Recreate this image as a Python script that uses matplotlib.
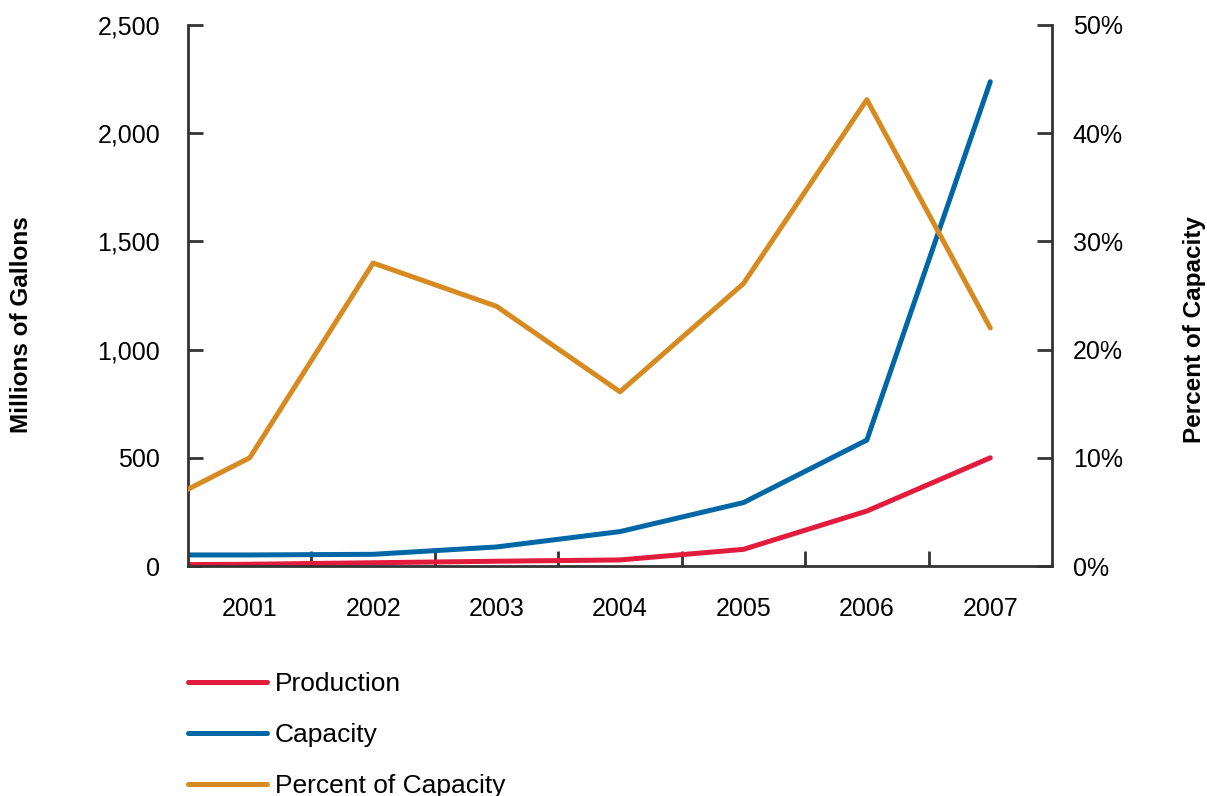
import matplotlib
matplotlib.use('Agg')
import matplotlib.pyplot as plt
from matplotlib.ticker import FuncFormatter

plt.rcParams['font.family'] = ['Liberation Sans', 'DejaVu Sans']

# Data (millions of gallons and percent of capacity)
years = [2000, 2001, 2002, 2003, 2004, 2005, 2006, 2007]
production = [5, 8, 15, 22, 28, 77, 254, 500]
capacity = [51, 51, 54, 88, 159, 293, 582, 2238]
pct_capacity = [4.2, 10.0, 28.0, 24.0, 16.1, 26.1, 43.1, 22.0]
year_labels = ['2001', '2002', '2003', '2004', '2005', '2006', '2007']

red = '#E31B3C'
blue = '#0067A6'
orange = '#D68A20'
axis_color = '#333333'

fig = plt.figure(figsize=(12.07, 7.96), dpi=100)
ax = fig.add_axes([188 / 1207, 1 - 566 / 796, (1052 - 188) / 1207, (566 - 25) / 796])
ax2 = ax.twinx()

l1, = ax.plot(years, production, color=red, lw=3.6, label='Production', solid_capstyle='round')
l2, = ax.plot(years, capacity, color=blue, lw=3.6, label='Capacity', solid_capstyle='round')
l3, = ax2.plot(years, pct_capacity, color=orange, lw=3.6, label='Percent of Capacity', solid_capstyle='round')

ax.set_xlim(2000.5, 2007.5)
ax.set_ylim(0, 2500)
ax2.set_ylim(0, 50)

# year labels centred on each year, tick marks between years
ax.set_xticks(range(2001, 2008))
ax.set_xticklabels(year_labels, fontsize=18)
ax.tick_params(axis='x', which='major', length=0, pad=22)
ax.set_xticks([y + 0.5 for y in range(2001, 2007)], minor=True)
ax.tick_params(axis='x', which='minor', direction='in', length=11, width=2, color=axis_color)

ax.set_yticks([0, 500, 1000, 1500, 2000, 2500])
ax.yaxis.set_major_formatter(FuncFormatter(lambda v, p: f'{int(v):,}'))
ax.tick_params(axis='y', direction='in', length=11, width=2, color=axis_color, labelsize=18, pad=20)

ax2.set_yticks([0, 10, 20, 30, 40, 50])
ax2.yaxis.set_major_formatter(FuncFormatter(lambda v, p: f'{int(v)}%'))
ax2.tick_params(axis='y', direction='in', length=11, width=2, color=axis_color, labelsize=18, pad=15)

for a in (ax, ax2):
    a.spines['top'].set_visible(False)
    for s in ('left', 'right', 'bottom'):
        a.spines[s].set_linewidth(2)
        a.spines[s].set_color(axis_color)
ax.spines['right'].set_visible(False)
ax2.spines['left'].set_visible(False)
ax2.spines['bottom'].set_visible(False)

fig.text(22 / 1207, 1 - 325 / 796, 'Millions of Gallons', rotation=90, fontsize=17.5,
         fontweight='bold', ha='center', va='center')
fig.text(1195 / 1207, 1 - 330 / 796, 'Percent of Capacity', rotation=90, fontsize=17.5,
         fontweight='bold', ha='center', va='center')

fig.legend(handles=[l1, l2, l3], loc='upper left', bbox_to_anchor=(188 / 1207, 1 - 672 / 796),
           frameon=False, fontsize=19, handlelength=3.0, handletextpad=0.3,
           labelspacing=1.03, borderpad=0, borderaxespad=0)

fig.savefig('out.png', dpi=100)
